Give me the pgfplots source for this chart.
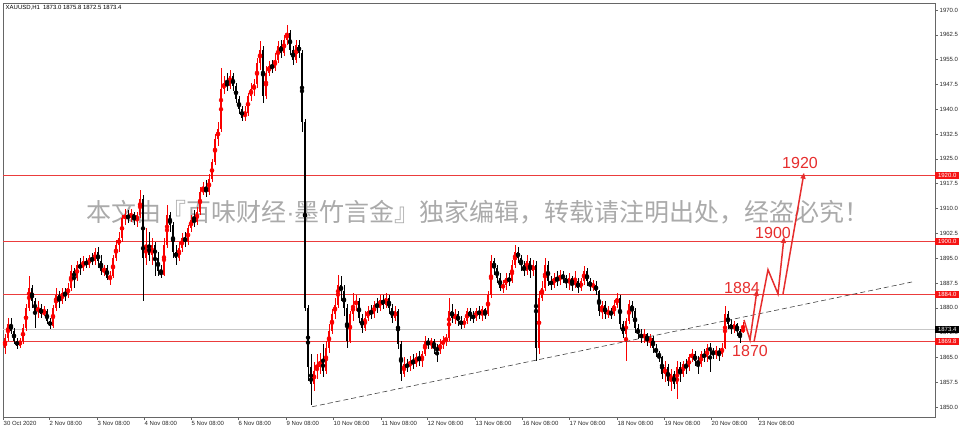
\documentclass[border=0pt]{standalone}
\usepackage{fontspec}
\setmainfont{Liberation Sans}
\newfontfamily\cjk{Noto Sans CJK SC}
\usepackage{pgfplots}
\usepackage{pgfplotstable}
\pgfplotsset{compat=1.18}
\usetikzlibrary{arrows.meta}
\definecolor{cred}{RGB}{250,0,0}
\definecolor{lvlcol}{RGB}{235,60,60}
\definecolor{anno}{RGB}{230,45,45}
\definecolor{wm}{RGB}{170,170,170}
\definecolor{lblred}{RGB}{245,20,20}

\pgfplotstableread{
x o h l c
5 1868 1872 1866 1871
8 1871 1877 1870 1875
11 1875 1877 1872 1873
14 1873 1874 1869 1870
17 1870 1871 1867.5 1868.5
20 1868.5 1871 1868 1870
23 1870 1875 1869 1874
26 1874 1881 1873 1880
29 1880 1889.5 1879 1886
32 1886 1887 1880 1882
35 1882 1883 1874 1879
38 1879 1882 1877 1880
41 1880 1881 1877 1878
44 1878 1880.5 1877.5 1879
47 1879 1879.5 1875 1876
50 1876 1877 1873.5 1874.5
53 1874.5 1881 1874 1880
56 1880 1886 1879 1884
59 1884 1885 1880 1882
62 1882 1886 1881 1884.5
65 1884.5 1886 1882 1884
68 1884 1887.5 1883 1886
71 1886 1893 1885 1891
74 1891 1892 1886 1889
77 1889 1894 1888 1893
80 1893 1895 1890 1892
83 1892 1895.5 1891 1894
86 1894 1895 1892 1893
89 1893 1896 1892 1895
92 1895 1896.5 1893 1894
95 1894 1898 1893 1897
98 1897 1898.5 1892 1894
101 1894 1896 1890 1891
104 1891 1893 1889.5 1892
107 1892 1893 1888.5 1889
110 1889 1891 1887 1889.5
113 1889.5 1896 1889 1895
116 1895 1900.5 1894 1899
119 1899 1903 1897 1901
122 1901 1908 1900 1907
125 1907 1910 1905 1908
128 1908 1909.5 1905.5 1907
131 1907 1910 1906 1908.5
134 1908.5 1909 1905 1906.5
137 1906.5 1909 1904.5 1908
140 1908 1915.5 1907 1913
143 1913 1914 1882 1895
146 1895 1904 1893 1899
149 1899 1903 1894 1896
152 1896 1901 1893 1899
155 1899 1900 1889.5 1895
158 1895 1897 1889.5 1891
161 1891 1893 1889 1890
164 1890 1901 1889.5 1899
167 1899 1911 1898 1908
170 1908 1909 1903 1905
173 1905 1906 1895 1897
176 1897 1899 1893 1895
179 1895 1900 1894 1898
182 1898 1902.5 1897 1901
185 1901 1903 1898.5 1900
188 1900 1905 1899 1904
191 1904 1908 1903 1906.5
194 1906.5 1909.5 1904.5 1906
197 1906 1910.5 1905 1909
200 1909 1916.5 1908 1915
203 1915 1918 1914 1916
206 1916 1918.5 1913.5 1915
209 1915 1920.5 1914 1919
212 1919 1925 1918 1924
215 1924 1932.5 1923 1931
218 1931 1936 1929 1934
221 1934 1952.5 1933 1946
224 1946 1950 1944.5 1948
227 1948 1951 1945.5 1947
230 1947 1952 1946 1950
233 1950 1951 1945.5 1947
236 1947 1948 1942 1943
239 1943 1944 1938.5 1940
242 1940 1941 1936.5 1937.5
245 1937.5 1941 1936.5 1939
248 1939 1945 1938 1944
251 1944 1948 1942.5 1946
254 1946 1949 1944 1947.5
257 1947.5 1955.5 1946.5 1954
260 1954 1960.5 1952 1958
263 1958 1959 1942 1944
266 1944 1953 1943 1951
269 1951 1954.5 1950 1953
272 1953 1955 1951 1952.5
275 1952.5 1957 1951.5 1955
278 1955 1960.5 1954 1959
281 1959 1961 1955.5 1957
284 1957 1962.5 1956 1961
287 1961 1965.5 1959.5 1963
290 1963 1964 1956.5 1958
293 1958 1959 1953.5 1955
296 1955 1961 1954 1959.5
299 1959.5 1961 1955.5 1957
302 1957 1958 1933 1936
305 1936 1937 1879 1880
308 1880 1881 1858 1862
311 1862 1866 1850.5 1857
314 1857 1863.5 1855 1861
317 1861 1866 1858.5 1862
320 1862 1866.5 1860 1864
323 1864 1869 1859 1861
326 1861 1870 1860 1868
329 1868 1875 1866.5 1873
332 1873 1879.5 1872 1878
335 1878 1883 1876.5 1881
338 1881 1890 1880 1887
341 1887 1889.5 1882 1885
344 1885 1887 1877.5 1880
347 1880 1881 1868 1870
350 1870 1879 1869.5 1878
353 1878 1884.5 1876 1881
356 1881 1884 1879 1882
359 1882 1883 1875.5 1877
362 1877 1878 1872.5 1874
365 1874 1879 1873 1877
368 1877 1880.5 1876 1879
371 1879 1881 1876.5 1878
374 1878 1882 1877 1881
377 1881 1883 1878.5 1880
380 1880 1884 1879 1882.5
383 1882.5 1884 1879.5 1881
386 1881 1884.5 1880 1883
389 1883 1884 1878 1880
392 1880 1881 1875.5 1877
395 1877 1880.5 1876 1879
398 1879 1879.5 1867.5 1869
401 1869 1870 1858 1860
404 1860 1865 1859 1863
407 1863 1864.5 1860.5 1862
410 1862 1865.5 1861 1864
413 1864 1866 1861.5 1863
416 1863 1866.5 1862 1865
419 1865 1867 1862.5 1864
422 1864 1867 1862 1866
425 1866 1871.5 1865.5 1870
428 1870 1871 1867.5 1869
431 1869 1871 1867.5 1870
434 1870 1870.5 1866 1868
437 1868 1869 1863.5 1867
440 1867 1870.5 1866 1869
443 1869 1871.5 1867.5 1870
446 1870 1872 1868.5 1871
449 1871 1883 1870 1879
452 1879 1881 1875.5 1877
455 1877 1879.5 1875 1878
458 1878 1879 1874.5 1876
461 1876 1877.5 1873.5 1875
464 1875 1877 1874 1876
467 1876 1880 1875 1879
470 1879 1880 1876 1877.5
473 1877.5 1879 1875.5 1877
476 1877 1880 1876 1879
479 1879 1880.5 1876.5 1878
482 1878 1880.5 1876 1879.5
485 1879.5 1880 1876.5 1878
488 1878 1885 1877.5 1884
491 1884 1896 1883 1894
494 1894 1895 1890 1892
497 1892 1893 1887.5 1889
500 1889 1890.5 1885 1886
503 1886 1888.5 1884.5 1887
506 1887 1890.5 1885.5 1889
509 1889 1890.5 1886.5 1888
512 1888 1894.5 1887.5 1893
515 1893 1899 1892 1897
518 1897 1898.5 1893.5 1895
521 1895 1896 1891 1893
524 1893 1894 1889.5 1891
527 1891 1896 1890 1894
530 1894 1895 1889 1891
533 1891 1894.5 1889.5 1893
536 1893 1894 1864 1868
539 1868 1885 1866 1883
542 1883 1888 1882 1886
545 1886 1895 1885 1893
548 1893 1894 1886.5 1888
551 1888 1889.5 1885.5 1887
554 1887 1890.5 1886 1889
557 1889 1891 1886.5 1888
560 1888 1891.5 1887 1890
563 1890 1891 1887.5 1889
566 1889 1890 1886 1887.5
569 1887.5 1890.5 1885.5 1889
572 1889 1889.5 1885 1887
575 1887 1891 1886 1888
578 1888 1889 1884.5 1886
581 1886 1889 1885 1888
584 1888 1892.5 1887 1891
587 1891 1892 1886.5 1888
590 1888 1889 1885 1886.5
593 1886.5 1888.5 1885 1887
596 1887 1888 1884 1885
599 1885 1885.5 1877.5 1879
602 1879 1882 1876.5 1881
605 1881 1882 1876.5 1878
608 1878 1880.5 1877 1879
611 1879 1880 1876.5 1878
614 1878 1882.5 1877.5 1881
617 1881 1884.5 1880 1883
620 1883 1884 1873.5 1875
623 1875 1876 1871 1872
626 1872 1877 1864 1876
629 1876 1882.5 1875 1881
632 1881 1882 1877 1879
635 1879 1880 1872.5 1874
638 1874 1875 1870.5 1872
641 1872 1873.5 1869.5 1871
644 1871 1873.5 1869.5 1872
647 1872 1872.5 1868.5 1870
650 1870 1872 1868 1871
653 1871 1871.5 1866.5 1868
656 1868 1869 1865 1866.5
659 1866.5 1867 1863.5 1865
662 1865 1865.5 1858.5 1860
665 1860 1864 1857.5 1862
668 1862 1863 1856.5 1858
671 1858 1861.5 1855 1860
674 1860 1861 1855.5 1857
677 1857 1864 1852.5 1862
680 1862 1863.5 1857.5 1860
683 1860 1864 1859 1863
686 1863 1864.5 1860 1862
689 1862 1866 1861 1865
692 1865 1867.5 1863.5 1866
695 1866 1867 1862.5 1864
698 1864 1865.5 1860 1863
701 1863 1867 1862 1866
704 1866 1867.5 1863.5 1865
707 1865 1869 1863.5 1868
710 1868 1869.5 1860.5 1867
713 1867 1868 1864.5 1866
716 1866 1868.5 1864.5 1867
719 1867 1868 1864 1866
722 1866 1869.5 1865 1868
725 1868 1880.5 1867.5 1878
728 1878 1879 1873.5 1875
731 1875 1876.5 1872 1873.5
734 1873.5 1876 1872.5 1875
737 1875 1875.5 1871.5 1873
740 1873 1873.5 1869.5 1871
743 1873 1875.8 1872.5 1873.4
}\candles

\pgfplotstableread{
x y
3 1920
935 1920
}\levA
\pgfplotstableread{
x y
3 1900
935 1900
}\levB
\pgfplotstableread{
x y
3 1884
935 1884
}\levC
\pgfplotstableread{
x y
3 1869.8
935 1869.8
}\levD

\begin{document}
\begin{tikzpicture}
\begin{axis}[
  at={(3pt,14pt)}, anchor=south west,
  scale only axis, width=932pt, height=414pt,
  xmin=3, xmax=935, ymin=1847, ymax=1972.1,
  clip=false,
  axis line style={draw=black!60, line width=0.8pt},
  tick align=outside, major tick length=3pt,
  tick style={draw=black!60, line width=0.5pt},
  xtick pos=bottom, ytick pos=right, yticklabel pos=right,
  xtick={3,49,97,144,191,238,286,333,381,427,475,522,569,617,664,711,758},
  xticklabels={30 Oct 2020,2 Nov 08:00,3 Nov 08:00,4 Nov 08:00,5 Nov 08:00,6 Nov 08:00,9 Nov 08:00,10 Nov 08:00,11 Nov 08:00,12 Nov 08:00,13 Nov 08:00,16 Nov 08:00,17 Nov 08:00,18 Nov 08:00,19 Nov 08:00,20 Nov 08:00,23 Nov 08:00},
  xticklabel style={anchor=north west, inner sep=0pt, xshift=0.5pt, yshift=-1.5pt, font=\fontsize{6}{7}\selectfont, text=black!85},
  ytick={1850,1857.5,1865,1872.5,1880,1887.5,1895,1902.5,1910,1917.5,1925,1932.5,1940,1947.5,1955,1962.5,1970},
  yticklabel style={anchor=west, inner sep=0pt, xshift=1.5pt, font=\fontsize{6}{7}\selectfont, text=black!85,
    /pgf/number format/fixed, /pgf/number format/fixed zerofill, /pgf/number format/precision=1, /pgf/number format/1000 sep={}},
  /pgf/number format/assume math mode=true,
]
% watermark
\node[font=\cjk\fontsize{25}{25}\selectfont, text=wm] at (axis cs:478,1909) {本文由『百味财经{\rmfamily ·}墨竹言金』独家编辑，转载请注明出处，经盗必究！};
% levels
\addplot[draw=lvlcol, mark=none, line width=1.1pt] table {\levA};
\addplot[draw=lvlcol, mark=none, line width=1.1pt] table {\levB};
\addplot[draw=lvlcol, mark=none, line width=1.1pt] table {\levC};
\addplot[draw=lvlcol, mark=none, line width=1.1pt] table {\levD};
\addplot[draw=black!22, mark=none, line width=0.8pt] coordinates {(3,1873.4) (935,1873.4)};
% bull candles: wicks and bodies
\addplot[color=cred, only marks, mark=none, restrict expr to domain={\thisrow{c}-\thisrow{o}}{0:1000},
  error bars/.cd, y dir=both, y explicit, error mark=none, error bar style={color=cred, line width=1pt}]
  table[x=x, y expr={(\thisrow{h}+\thisrow{l})/2}, y error expr={(\thisrow{h}-\thisrow{l})/2}] {\candles};
\addplot[color=cred, only marks, mark=none, restrict expr to domain={\thisrow{c}-\thisrow{o}}{0:1000},
  error bars/.cd, y dir=both, y explicit, error mark=none, error bar style={color=cred, line width=1.6pt}]
  table[x=x, y expr={(\thisrow{o}+\thisrow{c})/2}, y error expr={abs(\thisrow{c}-\thisrow{o})/2}] {\candles};
% bear candles
\addplot[color=black, only marks, mark=none, restrict expr to domain={\thisrow{c}-\thisrow{o}}{-1000:-0.001},
  error bars/.cd, y dir=both, y explicit, error mark=none, error bar style={color=black, line width=0.8pt}]
  table[x=x, y expr={(\thisrow{h}+\thisrow{l})/2}, y error expr={(\thisrow{h}-\thisrow{l})/2}] {\candles};
\addplot[color=black, only marks, mark=none, restrict expr to domain={\thisrow{c}-\thisrow{o}}{-1000:-0.001},
  error bars/.cd, y dir=both, y explicit, error mark=none, error bar style={color=black, line width=1.6pt}]
  table[x=x, y expr={(\thisrow{o}+\thisrow{c})/2}, y error expr={abs(\thisrow{c}-\thisrow{o})/2}] {\candles};
% trendline
\addplot[black!75, mark=none, line width=0.6pt, dash pattern=on 5pt off 3pt] coordinates {(312,1850.1) (912,1887.8)};
% forecast arrows
\addplot[anno, mark=none, line width=1.5pt, line join=miter, -{Triangle[length=6pt,width=5pt]}] coordinates {(744,1876.3) (750,1870.3) (757,1885.4)};
\addplot[anno, mark=none, line width=1.5pt, line join=miter, -{Triangle[length=6pt,width=5pt]}] coordinates {(754,1869.7) (768,1891.5) (778,1884.2) (784,1901.4)};
\addplot[anno, mark=none, line width=1.5pt, -{Triangle[length=6pt,width=5pt]}] coordinates {(783,1884.2) (804,1920.8)};
\node[text=anno, font=\fontsize{16}{16}\selectfont] at (axis cs:800,1923.8) {1920};
\node[text=anno, font=\fontsize{16}{16}\selectfont] at (axis cs:773,1902.6) {1900};
\node[text=anno, font=\fontsize{16}{16}\selectfont] at (axis cs:742,1886.0) {1884};
\node[text=anno, font=\fontsize{16}{16}\selectfont] at (axis cs:750,1867.0) {1870};
% title
\node[anchor=north west, inner sep=0pt, xshift=2.5pt, yshift=-2.5pt, font=\fontsize{6}{7}\selectfont] at (rel axis cs:0,1) {XAUUSD,H1\enspace 1873.0 1875.8 1872.5 1873.4};
\coordinate (L1) at (axis cs:935,1920);
\coordinate (L2) at (axis cs:935,1900);
\coordinate (L3) at (axis cs:935,1884);
\coordinate (L4) at (axis cs:935,1873.4);
\coordinate (L5) at (axis cs:935,1869.8);
\end{axis}
\tikzset{lbl/.style={anchor=west, inner sep=0pt, minimum width=24pt, minimum height=7.5pt, text=white, font=\fontsize{6}{7}\selectfont}}
\node[lbl, fill=lblred] at (L1) {1920.0};
\node[lbl, fill=lblred] at (L2) {1900.0};
\node[lbl, fill=lblred] at (L3) {1884.0};
\node[lbl, fill=black] at (L4) {1873.4};
\node[lbl, fill=lblred] at (L5) {1869.8};
\pgfresetboundingbox
\path[use as bounding box] (0,0) rectangle (960pt,431pt);
\end{tikzpicture}
\end{document}
